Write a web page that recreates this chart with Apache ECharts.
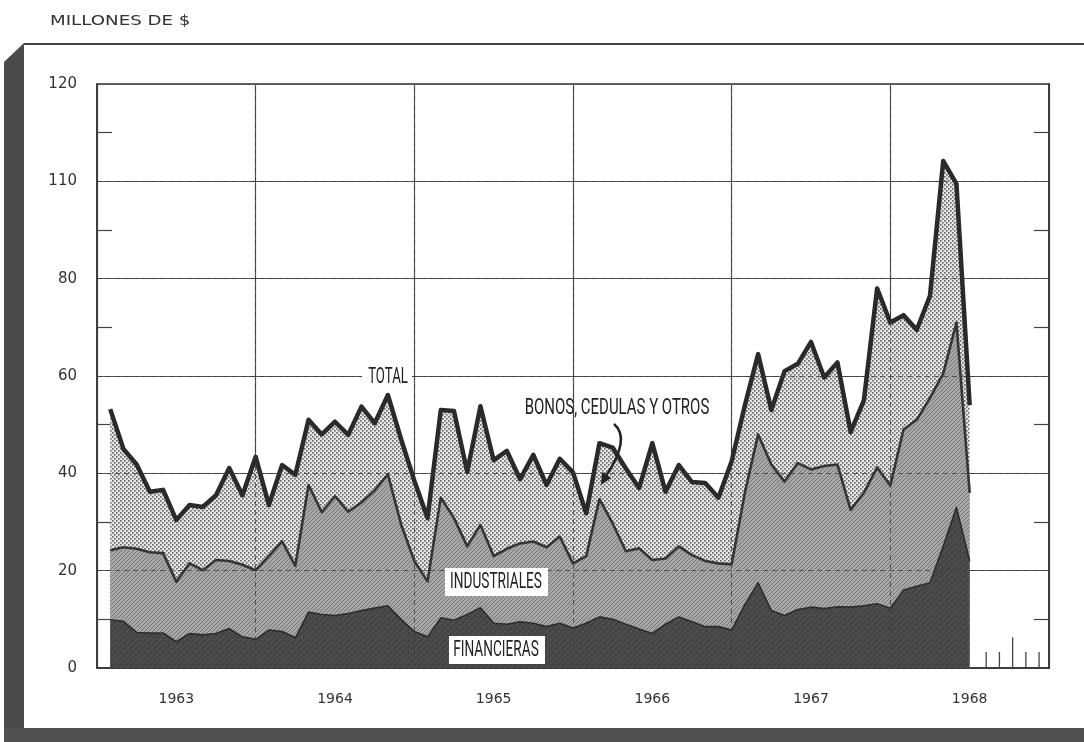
<!DOCTYPE html>
<html>
<head>
<meta charset="utf-8">
<script src="https://cdn.jsdelivr.net/npm/echarts@6/dist/echarts.min.js"></script>
<style>
html,body{margin:0;padding:0;background:#ffffff;}
#c{width:1084px;height:742px;}
</style>
</head>
<body>
<div id="c"></div>
<script>
// ---- data (monthly, Jan 1963 .. Jun 1968), millones de $ ----
const years = ['1963', '1964', '1965', '1966', '1967', '1968'];
const yTickLabels = ['0', '20', '40', '60', '80', '110', '120'];

// TOTAL (top line)
const total = [
  53.2, 45.0, 41.8, 36.2, 36.6, 30.4, 33.5, 33.1, 35.5, 41.1, 35.5, 43.4,
  33.5, 41.7, 39.7, 51.0, 48.0, 50.6, 47.9, 53.7, 50.3, 56.1, 47.0, 38.5,
  30.8, 53.0, 52.8, 40.3, 53.8, 42.7, 44.6, 38.8, 43.8, 37.6, 43.0, 40.2,
  31.8, 46.2, 45.3, 41.0, 37.0, 46.2, 36.2, 41.7, 38.2, 38.0, 35.0, 42.5,
  54.0, 64.5, 53.0, 61.0, 62.5, 67.0, 59.7, 62.8, 48.5, 55.0, 78.0, 71.0,
  72.5, 69.5, 76.5, 104.2, 99.5, 54.0
];
// top of INDUSTRIALES layer (financieras + industriales)
const industrialesTop = [
  24.2, 24.8, 24.5, 23.8, 23.6, 17.7, 21.5, 20.1, 22.2, 22.0, 21.2, 20.1,
  23.0, 26.0, 21.0, 37.6, 32.0, 35.3, 32.1, 34.0, 36.5, 39.8, 29.5, 22.0,
  17.8, 35.0, 30.8, 25.0, 29.4, 23.0, 24.5, 25.6, 26.0, 24.8, 27.0, 21.5,
  23.0, 34.7, 29.7, 24.0, 24.6, 22.2, 22.5, 25.0, 23.2, 22.0, 21.5, 21.3,
  36.0, 48.0, 41.8, 38.3, 42.1, 40.8, 41.5, 41.8, 32.5, 36.0, 41.2, 37.5,
  49.0, 51.0, 55.5, 60.5, 71.0, 36.0
];
// top of FINANCIERAS layer
const financierasTop = [
  9.9, 9.6, 7.3, 7.2, 7.2, 5.4, 7.1, 6.8, 7.1, 8.1, 6.4, 5.9,
  7.8, 7.5, 6.2, 11.5, 11.0, 10.8, 11.2, 11.8, 12.3, 12.8, 10.0, 7.5,
  6.4, 10.3, 9.8, 11.0, 12.4, 9.2, 9.0, 9.5, 9.2, 8.5, 9.2, 8.2,
  9.2, 10.5, 10.0, 9.0, 8.0, 7.1, 9.0, 10.5, 9.5, 8.5, 8.5, 7.8,
  13.0, 17.5, 11.8, 10.8, 12.0, 12.5, 12.2, 12.6, 12.5, 12.8, 13.2, 12.3,
  16.0, 16.8, 17.5, 25.0, 33.0, 22.0
];
// small month ticks drawn after the last data point (in months from Jan 1963)
const futureMonthTicks = [67.25, 68.25, 69.25, 70.25, 71.25];
const futureTickHeights = [3.3, 3.3, 6.3, 3.3, 3.3];
const yGrid = [20, 40, 60, 80, 100];
const xGrid = [12, 24, 36, 48, 60];

// ---- textures (style only) ----
function makePattern(w, h, base, draw) {
  const c = document.createElement('canvas');
  c.width = w; c.height = h;
  const g = c.getContext('2d');
  g.fillStyle = base; g.fillRect(0, 0, w, h);
  draw(g);
  return { image: c, repeat: 'repeat' };
}
const patDots = makePattern(4, 4, '#e4e4e4', g => {
  g.fillStyle = '#666666';
  g.fillRect(0, 0, 1.6, 1.6);
  g.fillRect(2, 2, 1.6, 1.6);
});
const patHatch = makePattern(4, 4, '#a6a6a6', g => {
  g.fillStyle = '#7a7a7a';
  g.fillRect(0, 3, 1, 1); g.fillRect(1, 2, 1, 1); g.fillRect(2, 1, 1, 1); g.fillRect(3, 0, 1, 1);
});
const patDark = makePattern(6, 6, '#474747', g => {
  g.fillStyle = '#606060';
  g.fillRect(1, 1, 1, 1); g.fillRect(4, 3, 1, 1); g.fillRect(2, 5, 1, 1);
  g.fillStyle = '#373737';
  g.fillRect(3, 0, 1, 1); g.fillRect(0, 4, 1, 1);
});

const toPts = arr => arr.map((v, i) => [i + 1, v]);

const condensed = 'Roboto, "DejaVu Sans", sans-serif';
function label(text, cx, cy, sx, size) {
  return {
    type: 'text', x: cx, y: cy, scaleX: sx, z: 101,
    style: { text: text, fill: '#222', font: '400 ' + size + 'px ' + condensed, textAlign: 'center', textVerticalAlign: 'middle' }
  };
}
function box(x, y, w, h) {
  return { type: 'rect', shape: { x: x, y: y, width: w, height: h }, style: { fill: '#ffffff' }, z: 100 };
}

const chart = echarts.init(document.getElementById('c'), null, { renderer: 'canvas' });
chart.setOption({
  backgroundColor: '#ffffff',
  animation: false,
  grid: { left: 97, right: 35, top: 84, bottom: 74, show: true, borderColor: '#333', borderWidth: 1.5 },
  xAxis: [
    {
      type: 'value', min: 0, max: 72, interval: 12,
      axisLine: { show: true, lineStyle: { color: '#333', width: 1.5 } },
      axisTick: { show: false }, axisLabel: { show: false },
      splitLine: { show: true, lineStyle: { color: '#555', width: 1.2 } }
    },
    {
      type: 'category', data: years, position: 'bottom', boundaryGap: true,
      axisLine: { show: false }, axisTick: { show: false }, splitLine: { show: false },
      axisLabel: { margin: 24, fontSize: 14, color: '#333', fontFamily: '"DejaVu Sans", sans-serif' }
    }
  ],
  yAxis: [
    {
      type: 'value', min: 0, max: 120, interval: 20, position: 'left',
      axisLine: { show: true, lineStyle: { color: '#333', width: 1.5 } },
      axisTick: { show: false, inside: true },
      minorTick: { show: true, splitNumber: 2, length: 15, lineStyle: { color: '#444', width: 1.2 } },
      minorSplitLine: { show: false },
      axisLabel: { formatter: v => yTickLabels[Math.round(v / 20)], margin: 20, fontSize: 15, color: '#333', fontFamily: '"DejaVu Sans", sans-serif' },
      splitLine: { show: true, lineStyle: { color: '#555', width: 1.2 } }
    },
    {
      type: 'value', min: 0, max: 120, interval: 20, position: 'right',
      axisLine: { show: true, lineStyle: { color: '#333', width: 1.5 } },
      axisTick: { show: false, inside: true },
      minorTick: { show: true, splitNumber: 2, length: 15, lineStyle: { color: '#444', width: 1.2 } },
      axisLabel: { show: false }, splitLine: { show: false }
    }
  ],
  series: [
    {
      name: 'Total', type: 'line', data: toPts(total), symbol: 'none', z: 2,
      lineStyle: { color: '#2a2a2a', width: 4.5, join: 'round' },
      areaStyle: { color: patDots, opacity: 1 }
    },
    {
      name: 'Industriales', type: 'line', data: toPts(industrialesTop), symbol: 'none', z: 3,
      lineStyle: { color: '#353535', width: 2.6, join: 'round' },
      areaStyle: { color: patHatch, opacity: 1 }
    },
    {
      name: 'Financieras', type: 'line', data: toPts(financierasTop), symbol: 'none', z: 4,
      lineStyle: { color: '#2c2c2c', width: 1.6, join: 'round' },
      areaStyle: { color: patDark, opacity: 1 }
    },
    {
      name: 'grid overlay', type: 'line', data: [], z: 5, silent: true,
      markLine: {
        silent: true, symbol: 'none', label: { show: false },
        lineStyle: { type: [5, 4], color: '#3a3a3a', width: 1, opacity: 0.75 },
        data: yGrid.map(v => ({ yAxis: v })).concat(xGrid.map(v => ({ xAxis: v })))
      }
    },
    {
      name: 'month ticks', type: 'custom', z: 6, silent: true,
      data: futureMonthTicks.map((x, i) => [x, futureTickHeights[i]]),
      renderItem: (params, api) => {
        const p0 = api.coord([api.value(0), 0]);
        const p1 = api.coord([api.value(0), api.value(1)]);
        return { type: 'line', shape: { x1: p0[0], y1: p0[1], x2: p1[0], y2: p1[1] }, style: { stroke: '#444', lineWidth: 1.3 } };
      }
    }
  ],
  graphic: [
    // panel frame
    { type: 'polygon', shape: { points: [[4, 62], [24, 43], [24, 742], [4, 742]] }, style: { fill: '#4a4a4a' }, z: 90 },
    { type: 'rect', shape: { x: 4, y: 728, width: 1080, height: 14 }, style: { fill: '#505050' }, z: 90 },
    { type: 'line', shape: { x1: 24, y1: 44, x2: 1084, y2: 44 }, style: { stroke: '#444', lineWidth: 2 }, z: 90 },
    {
      type: 'text', x: 50, y: 21, scaleX: 1.3, z: 101,
      style: { text: 'MILLONES DE $', fill: '#333', font: '14px "DejaVu Sans", sans-serif', textAlign: 'left', textVerticalAlign: 'middle' }
    },
    // series labels
    box(362, 364, 50, 25), label('TOTAL', 388, 377, 0.6, 22),
    label('BONOS, CEDULAS Y OTROS', 617, 408, 0.68, 22),
    box(445, 568, 103, 28), label('INDUSTRIALES', 496, 582, 0.62, 22),
    box(449, 636, 96, 28), label('FINANCIERAS', 496, 650, 0.62, 22),
    // arrow
    {
      type: 'bezierCurve', z: 101,
      shape: { x1: 614, y1: 424, cpx1: 626, cpy1: 434, cpx2: 622, cpy2: 452, x2: 606, y2: 476 },
      style: { stroke: '#222', lineWidth: 2.5, fill: null }
    },
    { type: 'polygon', z: 101, shape: { points: [[601, 485], [602, 472], [611, 478]] }, style: { fill: '#222' } }
  ]
});
</script>
</body>
</html>
